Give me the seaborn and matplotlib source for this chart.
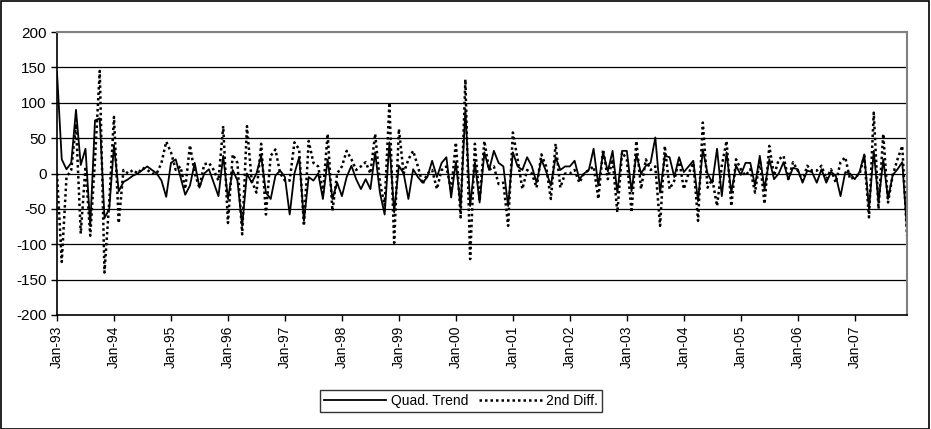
import numpy as np
import pandas as pd
import matplotlib
matplotlib.use("Agg")
import matplotlib.pyplot as plt
import seaborn as sns
from matplotlib.patches import Rectangle

# ---- data (monthly, Jan-93 .. Dec-07) ----
quad_trend = [
    143, 20, 6, 15, 90, 12, 35, -74, 75, 78, -63, -50,
    40, -25, -12, -8, -3, 0, 5, 10, 5, 0, -10, -33,
    15, 20, -5, -30, -17, 15, -20, 0, 6, -13, -32, 25,
    -36, 5, -10, -74, 0, -13, 0, 25, -27, -36, -3, 4,
    -5, -58, 0, 23, -67, -5, -10, 0, -36, 20, -36, -13,
    -32, -5, 11, -8, -22, -8, -22, 30, -27, -58, 44, -55,
    11, 0, -36, 6, -5, -13, -5, 18, -5, 15, 23, -34,
    16, -48, 91, -46, 16, -41, 30, 5, 32, 15, 10, -46,
    30, 10, 5, 23, 10, -13, 20, 3, -17, 23, 5, 10,
    10, 18, -8, 0, 5, 35, -17, 30, 3, 32, -27, 32,
    32, -25, 27, 0, 11, 15, 51, -27, 25, 23, -5, 23,
    2, 10, 18, -39, 34, 0, -13, 35, -32, 30, -27, 11,
    -2, 15, 15, -17, 25, -22, 20, -8, 0, 16, -8, 8,
    6, -13, 4, 2, -13, 6, -13, 2, -3, -32, 2, 0,
    -8, 2, 27, -50, 32, -41, 20, -36, -2, 6, 16, -80,
]
second_diff = [
    0, -125, -5, 5, 70, -85, 10, -88, 20, 145, -140, -40,
    80, -70, 5, 0, 5, 0, 8, 5, 0, 0, 15, 45,
    30, 5, 10, -22, 40, 0, -20, 13, 15, 5, -10, 67,
    -70, 27, 15, -86, 67, -10, -27, 42, -58, 25, 34, 0,
    -10, -10, 44, 34, -74, 46, 15, 10, -27, 56, -53, 0,
    10, 32, 20, 5, 10, 16, 0, 56, -13, -45, 100, -98,
    63, 0, 20, 32, 10, -15, 0, 5, -22, 5, 10, -25,
    44, -62, 133, -121, 42, -39, 46, 5, 10, -15, -13, -74,
    58, 20, -22, 5, 0, -20, 27, 10, -36, 42, -20, 0,
    0, 5, -13, 0, 5, 10, -36, 34, -8, 20, -55, 30,
    20, -55, 46, -22, 20, 5, 10, -74, 39, -22, -10, 20,
    -22, 0, 15, -67, 72, -20, -8, -46, 11, 46, -46, 20,
    6, -3, 6, -27, 20, -43, 39, -3, 20, 25, -8, 16,
    4, -10, 11, 4, 4, 11, -8, 6, -13, 16, 23, -8,
    -5, -1, 25, -62, 86, -50, 56, -41, -2, 20, 39, -88,
]
years = list(range(1993, 2008))
tick_labels = [f"Jan-{y % 100:02d}" for y in years]
y_ticks = [-200, -150, -100, -50, 0, 50, 100, 150, 200]

month_idx = np.arange(len(quad_trend))
df = pd.DataFrame({"m": month_idx, "quad": quad_trend, "diff2": second_diff})

plt.rcParams["font.family"] = ["Liberation Sans", "DejaVu Sans"]

fig = plt.figure(figsize=(9.31, 4.29), dpi=100)
L, R, T, B = 57, 907, 32, 315
W, H = 931, 429
ax = fig.add_axes([L / W, 1 - B / H, (R - L) / W, (B - T) / H])

sns.lineplot(data=df, x="m", y="quad", ax=ax, color="black", linewidth=1.3,
             label="Quad. Trend")
sns.lineplot(data=df, x="m", y="diff2", ax=ax, color="black", linewidth=1.8,
             linestyle=(0, (1.0, 1.2)), label="2nd Diff.")

ax.set_xlim(0, len(quad_trend) - 1)
ax.set_ylim(-200, 200)
ax.set_yticks(y_ticks)
ax.set_yticklabels([str(v) for v in y_ticks], fontsize=11)
ax.set_xticks([12 * k for k in range(len(years))])
ax.set_xticklabels(tick_labels, rotation=90, fontsize=10)
ax.set_xlabel("")
ax.set_ylabel("")
ax.tick_params(axis="both", direction="out", length=4, width=1, color="black")
ax.grid(False)
for v in y_ticks[1:-1]:
    ax.axhline(v, color="black", linewidth=0.9, zorder=0)
ax.axhline(200, color="#808080", linewidth=1.5, zorder=0)
for s in ["top", "right"]:
    ax.spines[s].set_color("#808080")
    ax.spines[s].set_linewidth(1.5)
for s in ["left", "bottom"]:
    ax.spines[s].set_color("black")
    ax.spines[s].set_linewidth(1.2)
ax.set_facecolor("white")

ax.get_legend().remove()
handles, labels = ax.get_legend_handles_labels()
leg = fig.legend(handles, labels, loc="center", bbox_to_anchor=(0.495, 1 - 401 / H),
                 ncol=2, frameon=True, fancybox=False, edgecolor="black",
                 fontsize=10, handlelength=4.5, columnspacing=0.8, handletextpad=0.3,
                 borderpad=0.3)
leg.get_frame().set_linewidth(1.0)

fig.patches.append(Rectangle((0.001, 0.001), 0.997, 0.997, transform=fig.transFigure,
                             fill=False, edgecolor="black", linewidth=1.2))

fig.savefig("out.png", dpi=100, facecolor="white")
